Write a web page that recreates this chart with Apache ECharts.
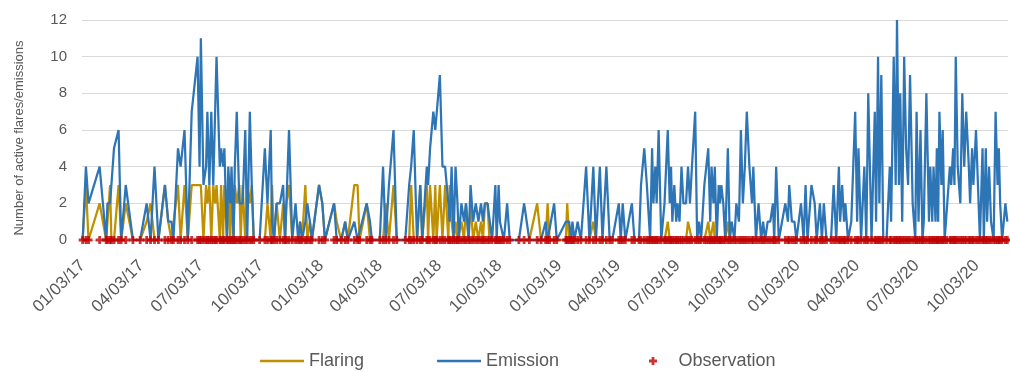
<!DOCTYPE html>
<html>
<head>
<meta charset="utf-8">
<script src="https://cdn.jsdelivr.net/npm/echarts@6/dist/echarts.min.js"></script>
<style>
  html, body { margin: 0; padding: 0; background: #fff; }
  #chart { width: 1010px; height: 371px; }
</style>
</head>
<body>
<div id="chart"></div>
<script>
// observation dates, as days after 01/03/17
const obsDay = [
  0, 5, 9, 26, 36, 38, 42, 44, 48, 55,
  59, 66, 77, 88, 98, 104, 110, 116, 126, 131,
  136, 139, 146, 150, 156, 161, 167, 176, 179, 181,
  185, 189, 191, 194, 197, 200, 203, 205, 210, 212,
  215, 217, 221, 223, 226, 228, 231, 233, 236, 240,
  242, 245, 249, 252, 256, 259, 262, 271, 279, 283,
  288, 290, 293, 297, 302, 307, 310, 312, 316, 321,
  326, 330, 333, 336, 341, 344, 348, 351, 362, 367,
  371, 385, 389, 396, 402, 406, 416, 421, 424, 435,
  440, 443, 455, 460, 464, 469, 476, 481, 494, 500,
  503, 507, 512, 517, 520, 527, 529, 532, 537, 540,
  542, 547, 551, 555, 560, 562, 565, 568, 571, 574,
  576, 580, 584, 587, 591, 594, 598, 602, 606, 610,
  613, 616, 620, 623, 627, 632, 634, 637, 639, 642,
  645, 650, 654, 668, 676, 684, 696, 702, 709, 712,
  715, 722, 726, 740, 742, 745, 748, 750, 753, 758,
  763, 771, 776, 782, 786, 792, 796, 802, 807, 811,
  821, 824, 827, 831, 841, 845, 852, 855, 860, 864,
  867, 869, 872, 874, 877, 879, 882, 886, 891, 893,
  896, 899, 901, 903, 906, 909, 911, 914, 917, 920,
  924, 927, 930, 933, 938, 941, 944, 947, 952, 955,
  958, 961, 963, 966, 968, 971, 974, 976, 978, 981,
  984, 988, 991, 994, 998, 1001, 1005, 1008, 1011, 1014,
  1017, 1021, 1025, 1027, 1031, 1035, 1039, 1042, 1045, 1049,
  1053, 1057, 1059, 1062, 1066, 1076, 1080, 1082, 1086, 1090,
  1093, 1100, 1104, 1107, 1110, 1116, 1121, 1124, 1129, 1132,
  1135, 1139, 1146, 1150, 1154, 1158, 1160, 1163, 1166, 1168,
  1172, 1177, 1183, 1186, 1188, 1192, 1197, 1200, 1203, 1208,
  1213, 1215, 1218, 1220, 1223, 1226, 1231, 1236, 1238, 1242,
  1245, 1247, 1250, 1252, 1255, 1258, 1261, 1264, 1267, 1271,
  1275, 1277, 1280, 1283, 1286, 1288, 1292, 1296, 1298, 1301,
  1303, 1306, 1308, 1310, 1312, 1315, 1317, 1320, 1323, 1328,
  1330, 1333, 1335, 1337, 1340, 1344, 1347, 1350, 1353, 1357,
  1359, 1362, 1364, 1368, 1371, 1374, 1378, 1380, 1383, 1385,
  1388, 1391, 1395, 1398, 1401, 1403, 1405, 1408, 1413, 1416
]

const emission = [
  0, 4, 2, 4, 0, 2, 2, 2, 5, 6,
  0, 3, 0, 0, 2, 0, 4, 0, 3, 1,
  1, 0, 5, 4, 6, 0, 7, 10, 4, 11,
  3, 4, 7, 3, 7, 3, 3, 10, 4, 5,
  4, 5, 0, 4, 2, 4, 0, 4, 7, 2,
  2, 2, 6, 0, 7, 3, 0, 0, 5, 2,
  6, 1, 0, 2, 2, 3, 0, 2, 6, 0,
  2, 0, 1, 0, 1, 2, 1, 0, 3, 2,
  0, 2, 0, 0, 1, 0, 1, 0, 0, 2,
  1, 0, 0, 4, 0, 3, 6, 0, 0, 3,
  4, 6, 0, 3, 0, 4, 3, 5, 7, 6,
  6, 9, 4, 4, 2, 1, 4, 0, 4, 2,
  0, 2, 1, 2, 0, 3, 1, 2, 1, 2,
  1, 2, 2, 2, 0, 3, 0, 3, 1, 1,
  0, 2, 0, 0, 2, 0, 0, 0, 1, 0,
  0, 2, 0, 1, 1, 1, 0, 1, 0, 1,
  0, 4, 0, 4, 0, 4, 0, 4, 0, 0,
  2, 0, 2, 0, 2, 0, 0, 3, 5, 3,
  3, 0, 5, 2, 4, 2, 6, 0, 2, 2,
  6, 2, 4, 1, 3, 1, 2, 1, 4, 2,
  2, 4, 2, 4, 7, 0, 1, 0, 3, 3,
  5, 1, 4, 2, 4, 0, 3, 2, 3, 2,
  0, 5, 0, 1, 0, 2, 1, 6, 2, 4,
  7, 4, 2, 4, 0, 2, 0, 1, 0, 1,
  1, 2, 0, 4, 0, 2, 1, 3, 1, 1,
  0, 2, 0, 3, 0, 3, 2, 0, 2, 0,
  2, 0, 0, 3, 0, 4, 1, 3, 1, 2,
  0, 1, 7, 1, 5, 0, 4, 0, 8, 0,
  7, 1, 10, 2, 9, 0, 0, 4, 1, 10,
  3, 12, 3, 8, 1, 10, 5, 3, 9, 2,
  0, 7, 1, 6, 0, 1, 8, 1, 4, 1,
  4, 1, 5, 1, 7, 3, 6, 0, 0, 4,
  3, 5, 3, 10, 4, 2, 8, 4, 7, 4,
  2, 5, 3, 6, 3, 0, 5, 0, 5, 1,
  4, 1, 0, 7, 3, 5, 2, 0, 2, 1
]

const flaring = [
  0, 3, 0, 2, 0, 0, 3, 0, 0, 3,
  0, 2, 0, 0, 1, 2, 0, 0, 3, 1,
  0, 0, 3, 0, 3, 0, 3, 3, 3, 3,
  0, 3, 2, 3, 0, 3, 2, 3, 0, 3,
  0, 3, 0, 3, 0, 3, 0, 3, 2, 3,
  0, 3, 0, 3, 2, 3, 0, 0, 0, 2,
  0, 3, 0, 2, 0, 2, 0, 2, 3, 0,
  0, 0, 1, 0, 3, 0, 1, 0, 3, 2,
  0, 2, 1, 0, 1, 0, 3, 3, 0, 2,
  0, 0, 0, 0, 2, 0, 3, 0, 0, 0,
  3, 0, 0, 3, 0, 3, 0, 3, 0, 3,
  0, 3, 0, 3, 0, 3, 1, 0, 1, 0,
  0, 1, 0, 2, 0, 2, 0, 1, 0, 1,
  0, 2, 2, 0, 0, 0, 0, 0, 0, 0,
  0, 0, 0, 0, 0, 0, 2, 0, 0, 2,
  0, 0, 0, 0, 2, 0, 0, 0, 0, 0,
  0, 0, 0, 1, 0, 0, 0, 0, 0, 0,
  0, 0, 0, 0, 0, 0, 0, 0, 0, 0,
  0, 0, 0, 0, 0, 0, 0, 0, 0, 0,
  1, 0, 0, 0, 0, 0, 0, 0, 0, 0,
  0, 1, 1, 0, 0, 0, 0, 0, 0, 0,
  1, 0, 0, 1, 0, 0, 0, 0, 0, 0,
  0, 1, 0, 0, 0, 0, 0, 0, 0, 0,
  0, 0, 0, 0, 0, 0, 0, 0, 0, 0,
  0, 0, 0, 0, 0, 0, 0, 0, 0, 0,
  0, 0, 0, 0, 0, 0, 0, 0, 0, 0,
  0, 0, 0, 0, 0, 0, 0, 0, 0, 0,
  0, 0, 0, 0, 0, 0, 0, 0, 0, 0,
  0, 0, 0, 0, 0, 0, 0, 0, 0, 0,
  0, 0, 0, 0, 0, 0, 0, 0, 0, 0,
  0, 0, 0, 0, 0, 0, 0, 0, 0, 0,
  0, 0, 0, 0, 0, 0, 0, 0, 0, 0,
  0, 0, 0, 0, 0, 0, 0, 0, 0, 0,
  0, 0, 0, 0, 0, 0, 0, 0, 0, 0,
  0, 0, 0, 0, 0, 0, 0, 0, 0, 0
]

const tickLabels = [
  '01/03/17', '04/03/17', '07/03/17', '10/03/17',
  '01/03/18', '04/03/18', '07/03/18', '10/03/18',
  '01/03/19', '04/03/19', '07/03/19', '10/03/19',
  '01/03/20', '04/03/20', '07/03/20', '10/03/20'
]

const yTicks = [0, 2, 4, 6, 8, 10, 12]

const TEXT_COLOR = '#595959'
const FONT = 'Liberation Sans'
const START = Date.UTC(2017, 0, 3)

// MM/DD/YY -> days after start
function dayOf (label) {
  const [m, d, y] = label.split('/').map(Number)
  return Math.round((Date.UTC(2000 + y, m - 1, d) - START) / 86400000)
}
const tickDays = tickLabels.map(dayOf)
const labelByDay = {}
tickLabels.forEach((l, i) => { labelByDay[tickDays[i]] = l })

const PLUS = 'path://M2.6,0H5.4V2.6H8V5.4H5.4V8H2.6V5.4H0V2.6H2.6Z'
const LINE = 'path://M0,0H44V2.5H0Z'
const legendText = { color: TEXT_COLOR, fontSize: 18, fontFamily: FONT }

const chart = echarts.init(document.getElementById('chart'))
chart.setOption({
  animation: false,
  grid: { left: 82, right: 2, top: 20, bottom: 131, containLabel: false },
  legend: [
    {
      left: 255,
      top: 347,
      itemWidth: 44,
      itemHeight: 7,
      itemGap: 73,
      textStyle: legendText,
      data: [
        { name: 'Flaring', icon: LINE },
        { name: 'Emission', icon: LINE }
      ]
    },
    {
      left: 644,
      top: 347,
      itemWidth: 41,
      itemHeight: 8,
      textStyle: legendText,
      data: [{ name: 'Observation', icon: PLUS }]
    }
  ],
  xAxis: {
    type: 'value',
    min: -1,
    max: 1417,
    axisLine: { show: true, lineStyle: { color: '#D9D9D9', width: 1 } },
    axisTick: { show: false },
    splitLine: { show: false },
    axisLabel: {
      customValues: tickDays,
      formatter: v => labelByDay[v] || '',
      rotate: 45,
      margin: 23,
      color: TEXT_COLOR,
      fontSize: 17,
      fontFamily: FONT
    }
  },
  yAxis: {
    type: 'value',
    min: yTicks[0],
    max: yTicks[yTicks.length - 1],
    interval: 2,
    name: 'Number of active flares/emissions',
    nameLocation: 'middle',
    nameGap: 56,
    nameTextStyle: { color: TEXT_COLOR, fontSize: 13, fontFamily: FONT, padding: [0, 16, 0, 0] },
    axisLine: { show: false },
    axisTick: { show: false },
    splitLine: { lineStyle: { color: '#D9D9D9', width: 1 } },
    axisLabel: { color: TEXT_COLOR, fontSize: 15, fontFamily: FONT, margin: 15 }
  },
  series: [
    {
      name: 'Flaring',
      type: 'line',
      data: obsDay.map((d, i) => [d, flaring[i]]),
      showSymbol: false,
      color: '#BF9000',
      lineStyle: { width: 2.25, color: '#BF9000' },
      z: 2
    },
    {
      name: 'Emission',
      type: 'line',
      data: obsDay.map((d, i) => [d, emission[i]]),
      showSymbol: false,
      color: '#2E75B6',
      lineStyle: { width: 2.25, color: '#2E75B6' },
      z: 3
    },
    {
      name: 'Observation',
      type: 'scatter',
      data: obsDay.map(d => [d, 0]),
      symbol: PLUS,
      symbolSize: 8,
      color: '#C00000',
      itemStyle: { color: '#C00000' },
      z: 4
    }
  ]
})
</script>
</body>
</html>
